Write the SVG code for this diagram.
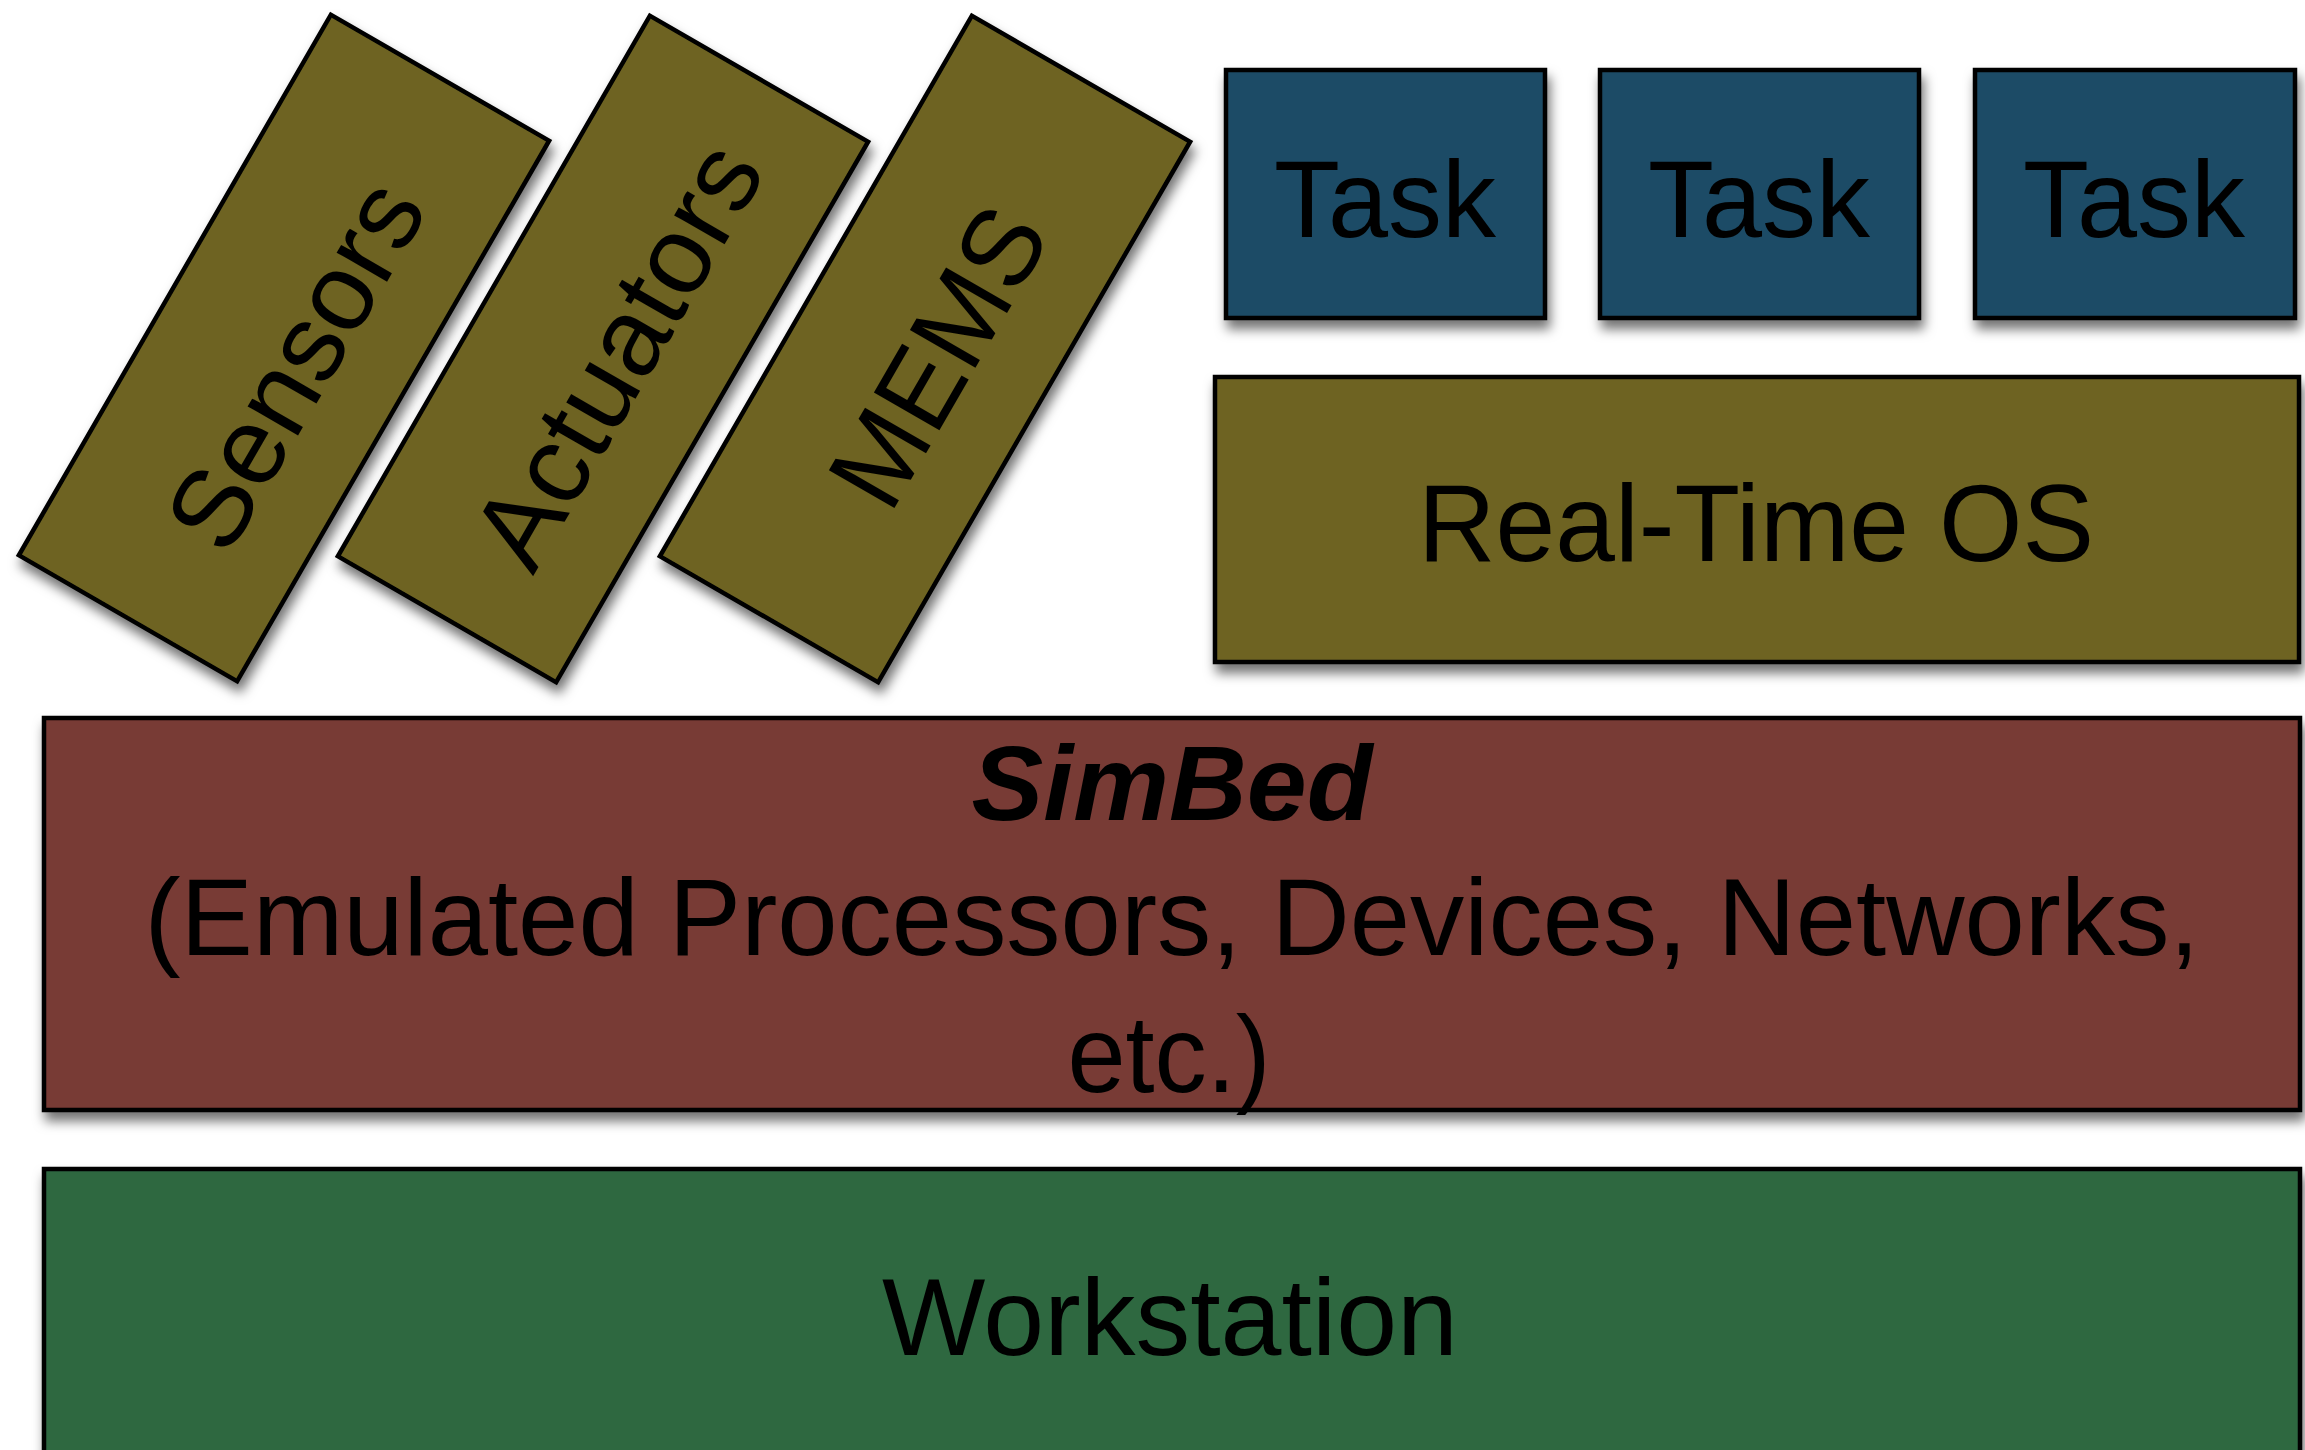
<svg xmlns="http://www.w3.org/2000/svg" width="2305" height="1450" viewBox="0 0 2305 1450">
<defs>
<filter id="sh" x="-10%" y="-10%" width="125%" height="130%">
<feDropShadow dx="3" dy="9" stdDeviation="6" flood-color="#000" flood-opacity="0.55"/>
</filter>
</defs>
<style>
.box{stroke:#000;stroke-width:4.5}
.olive{fill:#6E6423}
.blue{fill:#1D4B66}
.red{fill:#783A36}
.green{fill:#2D6741}
.t{font-family:"Liberation Sans",Arial,Helvetica,sans-serif;font-size:110px;fill:#000;text-anchor:middle}
.b{font-family:"Liberation Sans",Arial,sans-serif;font-size:106px;font-weight:bold;font-style:italic;fill:#000;text-anchor:middle}
</style>
<rect width="2305" height="1450" fill="#fff"/>
<g id="sensors">
<g filter="url(#sh)"><rect class="box olive" x="-312" y="-126" width="624" height="252" transform="translate(284,348) rotate(-60)"/></g>
<text class="t" x="-9" y="56" textLength="404" lengthAdjust="spacingAndGlyphs" transform="translate(284,348) rotate(-60)">Sensors</text>
</g>
<g id="actuators">
<g filter="url(#sh)"><rect class="box olive" x="-312" y="-126" width="624" height="252" transform="translate(603,349) rotate(-60)"/></g>
<text class="t" x="2" y="53" textLength="468" lengthAdjust="spacingAndGlyphs" transform="translate(603,349) rotate(-60)">Actuators</text>
</g>
<g id="mems">
<g filter="url(#sh)"><rect class="box olive" x="-312" y="-126" width="624" height="252" transform="translate(925,349) rotate(-60)"/></g>
<text class="t" x="0" y="53" textLength="324" lengthAdjust="spacingAndGlyphs" transform="translate(925,349) rotate(-60)">MEMS</text>
</g>
<g id="task1">
<rect class="box blue" filter="url(#sh)" x="1226" y="70" width="319" height="248"/>
<text class="t" x="1385" y="237" textLength="222" lengthAdjust="spacingAndGlyphs">Task</text>
</g>
<g id="task2">
<rect class="box blue" filter="url(#sh)" x="1600" y="70" width="319" height="248"/>
<text class="t" x="1759" y="237" textLength="222" lengthAdjust="spacingAndGlyphs">Task</text>
</g>
<g id="task3">
<rect class="box blue" filter="url(#sh)" x="1975" y="70" width="320" height="248"/>
<text class="t" x="2134" y="237" textLength="222" lengthAdjust="spacingAndGlyphs">Task</text>
</g>
<g id="rtos">
<rect class="box olive" filter="url(#sh)" x="1215" y="377" width="1084" height="285"/>
<text class="t" x="1756" y="561" textLength="676" lengthAdjust="spacingAndGlyphs">Real-Time OS</text>
</g>
<g id="simbed">
<rect class="box red" filter="url(#sh)" x="44" y="718" width="2256" height="392"/>
<text class="b" x="1172" y="820" textLength="401" lengthAdjust="spacingAndGlyphs">SimBed</text>
<text class="t" x="1172" y="955" textLength="2055" lengthAdjust="spacingAndGlyphs">(Emulated Processors, Devices, Networks,</text>
<text class="t" x="1169" y="1092" textLength="203" lengthAdjust="spacingAndGlyphs">etc.)</text>
</g>
<g id="workstation">
<rect class="box green" filter="url(#sh)" x="44" y="1169" width="2256" height="320"/>
<text class="t" x="1170" y="1355" textLength="576" lengthAdjust="spacingAndGlyphs">Workstation</text>
</g>
<g id="connectors"></g>
</svg>
